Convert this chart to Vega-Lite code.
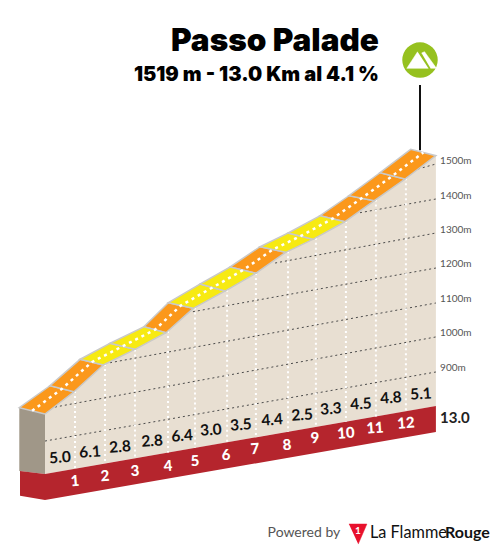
{"$schema":"https://vega.github.io/schema/vega-lite/v6.json","width":495,"height":550,"autosize":{"type":"fit","contains":"padding"},"padding":0,"background":"white","view":{"stroke":null},
"datasets":{
"terrain":[{"km":0,"m":779.9,"base":607},{"km":0.967,"m":844.1,"base":621.5},{"km":1.943,"m":921.1,"base":636.2},{"km":3,"m":966.3,"base":652.1},{"km":4.033,"m":1014.2,"base":667.6},{"km":4.943,"m":1084.5,"base":681.3},{"km":6,"m":1134.3,"base":697.2},{"km":7.023,"m":1185.4,"base":712.6},{"km":8.023,"m":1245.9,"base":727.6},{"km":8.933,"m":1283.3,"base":741.3},{"km":10,"m":1334.1,"base":757.3},{"km":10.977,"m":1394.6,"base":772},{"km":12,"m":1457.1,"base":787.4},{"km":13.03,"m":1524.3,"base":802.8}],
"redband":[{"km":-0.833,"m":615.6,"base":544.4},{"km":0,"m":606.9,"base":532},{"km":13.03,"m":802.9,"base":728}],
"wall":[{"km":-0.857,"m":798,"base":615.6},{"km":0,"m":779.9,"base":606.9}],
"road":[
{"seg":1,"i":1,"km":0,"m":779.9,"cls":"hard"},{"seg":1,"i":2,"km":0.967,"m":844.1,"cls":"hard"},{"seg":1,"i":3,"km":0.167,"m":861.4,"cls":"hard"},{"seg":1,"i":4,"km":-0.857,"m":798,"cls":"hard"},{"seg":1,"i":5,"km":0,"m":779.9,"cls":"hard"},
{"seg":2,"i":1,"km":0.967,"m":844.1,"cls":"hard"},{"seg":2,"i":2,"km":1.943,"m":921.1,"cls":"hard"},{"seg":2,"i":3,"km":1.167,"m":937.5,"cls":"hard"},{"seg":2,"i":4,"km":0.167,"m":861.4,"cls":"hard"},{"seg":2,"i":5,"km":0.967,"m":844.1,"cls":"hard"},
{"seg":3,"i":1,"km":1.943,"m":921.1,"cls":"easy"},{"seg":3,"i":2,"km":3,"m":966.3,"cls":"easy"},{"seg":3,"i":3,"km":2.167,"m":983.6,"cls":"easy"},{"seg":3,"i":4,"km":1.167,"m":937.5,"cls":"easy"},{"seg":3,"i":5,"km":1.943,"m":921.1,"cls":"easy"},
{"seg":4,"i":1,"km":3,"m":966.3,"cls":"easy"},{"seg":4,"i":2,"km":4.033,"m":1014.2,"cls":"easy"},{"seg":4,"i":3,"km":3.3,"m":1031.5,"cls":"easy"},{"seg":4,"i":4,"km":2.167,"m":983.6,"cls":"easy"},{"seg":4,"i":5,"km":3,"m":966.3,"cls":"easy"},
{"seg":5,"i":1,"km":4.033,"m":1014.2,"cls":"hard"},{"seg":5,"i":2,"km":4.943,"m":1084.5,"cls":"hard"},{"seg":5,"i":3,"km":4.11,"m":1100.6,"cls":"hard"},{"seg":5,"i":4,"km":3.3,"m":1031.5,"cls":"hard"},{"seg":5,"i":5,"km":4.033,"m":1014.2,"cls":"hard"},
{"seg":6,"i":1,"km":4.943,"m":1084.5,"cls":"easy"},{"seg":6,"i":2,"km":6,"m":1134.3,"cls":"easy"},{"seg":6,"i":3,"km":5.167,"m":1154.5,"cls":"easy"},{"seg":6,"i":4,"km":4.11,"m":1100.6,"cls":"easy"},{"seg":6,"i":5,"km":4.943,"m":1084.5,"cls":"easy"},
{"seg":7,"i":1,"km":6,"m":1134.3,"cls":"easy"},{"seg":7,"i":2,"km":7.023,"m":1185.4,"cls":"easy"},{"seg":7,"i":3,"km":6.167,"m":1203.5,"cls":"easy"},{"seg":7,"i":4,"km":5.167,"m":1154.5,"cls":"easy"},{"seg":7,"i":5,"km":6,"m":1134.3,"cls":"easy"},
{"seg":8,"i":1,"km":7.023,"m":1185.4,"cls":"hard"},{"seg":8,"i":2,"km":8.023,"m":1245.9,"cls":"hard"},{"seg":8,"i":3,"km":7.167,"m":1262,"cls":"hard"},{"seg":8,"i":4,"km":6.167,"m":1203.5,"cls":"hard"},{"seg":8,"i":5,"km":7.023,"m":1185.4,"cls":"hard"},
{"seg":9,"i":1,"km":8.023,"m":1245.9,"cls":"easy"},{"seg":9,"i":2,"km":8.933,"m":1283.3,"cls":"easy"},{"seg":9,"i":3,"km":8.1,"m":1301.5,"cls":"easy"},{"seg":9,"i":4,"km":7.167,"m":1262,"cls":"easy"},{"seg":9,"i":5,"km":8.023,"m":1245.9,"cls":"easy"},
{"seg":10,"i":1,"km":8.933,"m":1283.3,"cls":"easy"},{"seg":10,"i":2,"km":10,"m":1334.1,"cls":"easy"},{"seg":10,"i":3,"km":9.167,"m":1351.3,"cls":"easy"},{"seg":10,"i":4,"km":8.1,"m":1301.5,"cls":"easy"},{"seg":10,"i":5,"km":8.933,"m":1283.3,"cls":"easy"},
{"seg":11,"i":1,"km":10,"m":1334.1,"cls":"hard"},{"seg":11,"i":2,"km":10.977,"m":1394.6,"cls":"hard"},{"seg":11,"i":3,"km":10.133,"m":1409,"cls":"hard"},{"seg":11,"i":4,"km":9.167,"m":1351.3,"cls":"hard"},{"seg":11,"i":5,"km":10,"m":1334.1,"cls":"hard"},
{"seg":12,"i":1,"km":10.977,"m":1394.6,"cls":"hard"},{"seg":12,"i":2,"km":12,"m":1457.1,"cls":"hard"},{"seg":12,"i":3,"km":11.167,"m":1475.3,"cls":"hard"},{"seg":12,"i":4,"km":10.133,"m":1409,"cls":"hard"},{"seg":12,"i":5,"km":10.977,"m":1394.6,"cls":"hard"},
{"seg":13,"i":1,"km":12,"m":1457.1,"cls":"hard"},{"seg":13,"i":2,"km":13.03,"m":1524.3,"cls":"hard"},{"seg":13,"i":3,"km":12.19,"m":1542.7,"cls":"hard"},{"seg":13,"i":4,"km":11.167,"m":1475.3,"cls":"hard"},{"seg":13,"i":5,"km":12,"m":1457.1,"cls":"hard"}],
"mid":[{"km":-0.43,"m":789},{"km":0.567,"m":852.8},{"km":1.555,"m":929.3},{"km":2.583,"m":975},{"km":3.667,"m":1022.9},{"km":4.527,"m":1092.6},{"km":5.583,"m":1144.4},{"km":6.595,"m":1194.5},{"km":7.595,"m":1254},{"km":8.517,"m":1292.4},{"km":9.583,"m":1342.7},{"km":10.555,"m":1401.8},{"km":11.583,"m":1466.2},{"km":12.61,"m":1533.5}],
"grid":[{"g":900,"km":0,"m":702},{"g":900,"km":13.03,"m":901},{"g":1000,"km":0.333,"m":800},{"g":1000,"km":13.03,"m":1002},{"g":1100,"km":2.167,"m":927.7},{"g":1100,"km":13.03,"m":1099.8},{"g":1200,"km":4.93,"m":1074.7},{"g":1200,"km":13.03,"m":1200.6},{"g":1300,"km":7.67,"m":1215},{"g":1300,"km":13.03,"m":1301.5},{"g":1400,"km":10.5,"m":1360},{"g":1400,"km":13.03,"m":1399.5},{"g":1500,"km":12.433,"m":1486},{"g":1500,"km":13.03,"m":1500.4}],
"ticks":[{"km":1,"m":846,"base":622},{"km":2,"m":924,"base":637},{"km":3,"m":966,"base":652},{"km":4.1,"m":1019,"base":669},{"km":5,"m":1087,"base":682},{"km":6.07,"m":1138,"base":698},{"km":7.03,"m":1186,"base":713},{"km":8.1,"m":1249,"base":729},{"km":9.03,"m":1288,"base":743},{"km":10.03,"m":1336,"base":758},{"km":11.03,"m":1398,"base":773},{"km":12.03,"m":1459,"base":788}],
"grades":[{"km":0.5,"m":653.9,"t":"5.0"},{"km":1.5,"m":670.3,"t":"6.1"},{"km":2.5,"m":684.8,"t":"2.8"},{"km":3.57,"m":702,"t":"2.8"},{"km":4.57,"m":716.6,"t":"6.4"},{"km":5.53,"m":733.7,"t":"3.0"},{"km":6.53,"m":748.2,"t":"3.5"},{"km":7.57,"m":762.6,"t":"4.4"},{"km":8.57,"m":777,"t":"2.5"},{"km":9.53,"m":794.3,"t":"3.3"},{"km":10.53,"m":808.7,"t":"4.5"},{"km":11.53,"m":826,"t":"4.8"},{"km":12.53,"m":837.5,"t":"5.1"}],
"kms":[{"km":1,"m":586.8,"t":"1"},{"km":2,"m":601.2,"t":"2"},{"km":3,"m":615.6,"t":"3"},{"km":4.1,"m":630,"t":"4"},{"km":5,"m":644.4,"t":"5"},{"km":6.03,"m":661.7,"t":"6"},{"km":7,"m":679,"t":"7"},{"km":8.07,"m":690.5,"t":"8"},{"km":9,"m":710.7,"t":"9"},{"km":10.03,"m":725,"t":"10"},{"km":11,"m":739.5,"t":"11"},{"km":12.03,"m":753.9,"t":"12"}],
"elev":[{"km":13.17,"m":1509,"t":"1500m"},{"km":13.17,"m":1408,"t":"1400m"},{"km":13.17,"m":1310,"t":"1300m"},{"km":13.17,"m":1212,"t":"1200m"},{"km":13.17,"m":1111,"t":"1100m"},{"km":13.17,"m":1013,"t":"1000m"},{"km":13.17,"m":912,"t":"900m"}],
"icon":[{"p":"a","i":1,"km":12.42,"m":1824},{"p":"a","i":2,"km":12.06,"m":1776},{"p":"a","i":3,"km":12.78,"m":1776},{"p":"b","i":1,"km":12.55,"m":1820},{"p":"b","i":2,"km":12.65,"m":1824},{"p":"b","i":3,"km":13.05,"m":1776},{"p":"b","i":4,"km":12.85,"m":1776}],
"logo":[{"km":10.13,"m":462.8,"i":1},{"km":10.73,"m":462.8,"i":2},{"km":10.44,"m":405,"i":3}]
},
"encoding":{"x":{"field":"km","type":"quantitative","scale":{"domain":[-1.5,15]},"axis":null},"y":{"field":"m","type":"quantitative","scale":{"domain":[388,1973]},"axis":null}},
"layer":[
{"data":{"name":"terrain"},"mark":{"type":"area","color":"#e8dfd2"},"encoding":{"y2":{"field":"base"}}},
{"data":{"name":"wall"},"mark":{"type":"area","color":"#a09788"},"encoding":{"y2":{"field":"base"}}},
{"data":{"name":"redband"},"mark":{"type":"area","color":"#b5252d"},"encoding":{"y2":{"field":"base"}}},
{"data":{"name":"grid"},"mark":{"type":"line","color":"#4a4a4a","strokeWidth":1,"strokeDash":[2,3]},"encoding":{"detail":{"field":"g"}}},
{"data":{"name":"ticks"},"mark":{"type":"rule","color":"#ffffff","strokeWidth":2,"strokeDash":[2,3]},"encoding":{"y2":{"field":"base"}}},
{"data":{"name":"road"},"transform":[{"filter":"datum.cls=='hard'"}],"mark":{"type":"line","fill":"#fb981b","stroke":"#c9c9c9","strokeWidth":1.5},"encoding":{"detail":{"field":"seg"},"order":{"field":"i"}}},
{"data":{"name":"road"},"transform":[{"filter":"datum.cls=='easy'"}],"mark":{"type":"line","fill":"#f7ea12","stroke":"#c9c9c9","strokeWidth":1.5},"encoding":{"detail":{"field":"seg"},"order":{"field":"i"}}},
{"data":{"name":"mid"},"mark":{"type":"line","color":"#ffffff","strokeWidth":2.5,"strokeDash":[3,4]}},
{"data":{"values":[{"km":12.5,"m":1728,"base":1540}]},"mark":{"type":"rule","color":"#111111","strokeWidth":2},"encoding":{"y2":{"field":"base"}}},
{"data":{"values":[{"km":12.5,"m":1800}]},"mark":{"type":"point","filled":true,"opacity":1,"color":"#96c11f","size":1257,"shape":"circle"}},
{"data":{"name":"icon"},"mark":{"type":"line","fill":"#ffffff","stroke":"#ffffff","strokeWidth":0.5},"encoding":{"detail":{"field":"p"},"order":{"field":"i"}}},
{"data":{"name":"grades"},"mark":{"type":"text","font":"Lato","fontWeight":700,"fontSize":15.5,"color":"#111111","angle":356,"baseline":"middle"},"encoding":{"text":{"field":"t"}}},
{"data":{"name":"kms"},"mark":{"type":"text","font":"Lato","fontWeight":900,"fontSize":15,"color":"#ffffff","angle":356,"baseline":"middle"},"encoding":{"text":{"field":"t"}}},
{"data":{"name":"elev"},"mark":{"type":"text","font":"Lato","fontWeight":400,"fontSize":10,"color":"#555555","align":"left","baseline":"middle"},"encoding":{"text":{"field":"t"}}},
{"data":{"values":[{"km":13.17,"m":768,"t":"13.0"}]},"mark":{"type":"text","font":"Lato","fontWeight":700,"fontSize":15,"color":"#222222","align":"left","baseline":"middle"},"encoding":{"text":{"field":"t"}}},
{"data":{"values":[{"km":11.13,"m":1853,"t":"Passo Palade"}]},"mark":{"type":"text","font":"Inter","fontWeight":900,"fontSize":31.5,"color":"#000000","align":"right","baseline":"middle"},"encoding":{"text":{"field":"t"}}},
{"data":{"values":[{"km":11.13,"m":1757,"t":"1519 m - 13.0 Km al 4.1 %"}]},"mark":{"type":"text","font":"Inter","fontWeight":900,"fontSize":20,"color":"#000000","align":"right","baseline":"middle"},"encoding":{"text":{"field":"t"}}},
{"data":{"values":[{"km":7.42,"m":437,"t":"Powered by"}]},"mark":{"type":"text","font":"Lato","fontWeight":400,"fontSize":14,"color":"#555555","align":"left","baseline":"middle"},"encoding":{"text":{"field":"t"}}},
{"data":{"name":"logo"},"mark":{"type":"line","fill":"#e8112d","stroke":"#e8112d","strokeWidth":0.5},"encoding":{"order":{"field":"i"}}},
{"data":{"values":[{"km":10.43,"m":443,"t":"1"}]},"mark":{"type":"text","font":"Lato","fontWeight":700,"fontSize":10,"color":"#ffffff","baseline":"middle"},"encoding":{"text":{"field":"t"}}},
{"data":{"values":[{"km":10.83,"m":437,"t":"La Flamme"}]},"mark":{"type":"text","font":"Lato","fontWeight":400,"fontSize":16.3,"color":"#111111","align":"left","baseline":"middle"},"encoding":{"text":{"field":"t"}}},
{"data":{"values":[{"km":14.83,"m":437,"t":"Rouge"}]},"mark":{"type":"text","font":"Lato","fontWeight":700,"fontSize":16,"color":"#111111","align":"right","baseline":"middle"},"encoding":{"text":{"field":"t"}}}
]}
